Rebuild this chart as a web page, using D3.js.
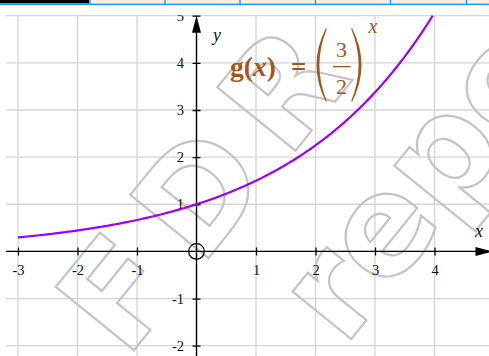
<!DOCTYPE html>
<html>
<head>
<meta charset="utf-8">
<script src="https://cdn.jsdelivr.net/npm/d3@7"></script>
<style>
  html, body { margin: 0; padding: 0; background: #fff; }
  svg { display: block; }
</style>
</head>
<body>
<svg id="chart" width="489" height="356"></svg>
<script>
// Function g(x) = (3/2)^x sampled along the visible x range
const base = 1.5;
const xTicks = [-3, -2, -1, 1, 2, 3, 4];
const yTicks = [-2, -1, 1, 2, 3, 4, 5];
const xGrid = [-3, -2, -1, 0, 1, 2, 3, 4];
const yGrid = [-2, -1, 0, 1, 2, 3, 4, 5];
const curveDomain = [-3, 3.97];
const tabEdges = [90, 165, 240, 315.5, 390.5, 466.5];
const watermarkWords = ["FDR", "repo"];

const W = 489, H = 356;
const svg = d3.select("#chart");

const x = d3.scaleLinear().domain([-3, 4]).range([18, 434.5]);
const y = d3.scaleLinear().domain([-2, 5]).range([345.7, 15.7]);
const x0 = x(0), y0 = y(0);

// header strip of tabs
svg.append("rect").attr("x", 0).attr("y", 0).attr("width", W).attr("height", 4).attr("fill", "#fbefe4");
svg.append("rect").attr("x", 0).attr("y", 0).attr("width", 89).attr("height", 3.4).attr("fill", "#000");
svg.append("rect").attr("x", 0).attr("y", 3.6).attr("width", W).attr("height", 1.4).attr("fill", "#12a4e3");
svg.selectAll("rect.tab").data(tabEdges).join("rect").attr("class", "tab")
  .attr("x", d => d - 0.7).attr("y", 0).attr("width", 1.4).attr("height", 4)
  .attr("fill", "#12a4e3");

// clip for plot content
const defs = svg.append("defs");
defs.append("clipPath").attr("id", "plotClip")
  .append("rect").attr("x", 0).attr("y", 14.8).attr("width", W).attr("height", H - 14.8);
const blur = defs.append("filter").attr("id", "soft").attr("x", "-10%").attr("y", "-10%").attr("width", "120%").attr("height", "120%");
blur.append("feGaussianBlur").attr("stdDeviation", 0.7);

const g = svg.append("g").attr("clip-path", "url(#plotClip)");

// grid
g.append("g").selectAll("line").data(yGrid).join("line")
  .attr("x1", 6).attr("x2", W).attr("y1", d => y(d)).attr("y2", d => y(d))
  .attr("stroke", "#d4d4d4").attr("stroke-width", 1.3);
g.append("g").selectAll("line").data(xGrid).join("line")
  .attr("x1", d => x(d)).attr("x2", d => x(d)).attr("y1", y(5)).attr("y2", H)
  .attr("stroke", "#d4d4d4").attr("stroke-width", 1.3);

// watermark
const wm = g.append("g").attr("filter", "url(#soft)")
  .attr("font-family", "DejaVu Sans, sans-serif").attr("font-weight", "bold")
  .attr("font-size", 138).attr("fill", "none").attr("stroke", "#c4c4c4").attr("stroke-width", 2.2);
wm.append("text").attr("transform", "translate(126,360) rotate(-51)").attr("letter-spacing", 24).text(watermarkWords[0]);
wm.append("text").attr("transform", "translate(344,348) rotate(-51)").text(watermarkWords[1]);

// axis lines with arrowheads
g.append("line").attr("x1", 6).attr("x2", 478).attr("y1", y0).attr("y2", y0)
  .attr("stroke", "#000").attr("stroke-width", 1.4);
g.append("line").attr("x1", x0).attr("x2", x0).attr("y1", H).attr("y2", y(5) + 14)
  .attr("stroke", "#000").attr("stroke-width", 1.4);
g.append("path").attr("d", `M${x0},${y(5)} L${x0 - 4.5},${y(5) + 17} L${x0 + 4.5},${y(5) + 17} Z`).attr("fill", "#000");
g.append("path").attr("d", `M493,${y0} L475.5,${y0 - 4.5} L475.5,${y0 + 4.5} Z`).attr("fill", "#000");

// ticks and tick labels
const xAxis = d3.axisBottom(x).tickValues(xTicks).tickSize(8).tickPadding(9).tickFormat(d => String(d));
const yAxis = d3.axisLeft(y).tickValues(yTicks).tickSize(8).tickPadding(8.5).tickFormat(d => String(d));
const gx = g.append("g").attr("transform", `translate(0,${y0 - 4})`).call(xAxis);
const gy = g.append("g").attr("transform", `translate(${x0 + 4},0)`).call(yAxis);
[gx, gy].forEach(a => {
  a.select(".domain").remove();
  a.selectAll(".tick line").attr("stroke", "#000").attr("stroke-width", 1.3);
  a.selectAll(".tick text").attr("fill", "#111")
    .attr("font-family", "Liberation Serif, Times New Roman, serif").attr("font-size", 14.5);
});

// origin marker
g.append("circle").attr("cx", x0).attr("cy", y0).attr("r", 7.8)
  .attr("fill", "none").attr("stroke", "#000").attr("stroke-width", 1.3);

// curve
const pts = d3.range(curveDomain[0], curveDomain[1] + 1e-9, 0.02).map(v => [v, Math.pow(base, v)]);
pts.push([curveDomain[1], Math.pow(base, curveDomain[1])]);
const line = d3.line().x(d => x(d[0])).y(d => y(d[1])).curve(d3.curveLinear);
g.append("path").datum(pts).attr("d", line)
  .attr("fill", "none").attr("stroke", "#a000f2").attr("stroke-width", 2.2);

// axis names
g.append("text").attr("x", 213).attr("y", 41).text("y")
  .attr("font-family", "Liberation Serif, serif").attr("font-style", "italic").attr("font-size", 18).attr("fill", "#111");
g.append("text").attr("x", 475).attr("y", 237).text("x")
  .attr("font-family", "Liberation Serif, serif").attr("font-style", "italic").attr("font-size", 18).attr("fill", "#111");

// formula label
const brown = "#a3561c";
const f = g.append("g").attr("fill", brown).attr("font-family", "Liberation Serif, Times New Roman, serif");
const lhs = f.append("text").attr("x", 230).attr("y", 75.5).attr("font-size", 27.5).attr("font-weight", "bold");
lhs.append("tspan").text("g(");
lhs.append("tspan").attr("font-style", "italic").text("x");
lhs.append("tspan").text(")");
f.append("text").attr("x", 291).attr("y", 75.5).attr("font-size", 27).attr("font-weight", "bold").text("=");
f.append("text").attr("x", 341.5).attr("y", 57).attr("font-size", 22).attr("text-anchor", "middle").text("3");
f.append("rect").attr("x", 333).attr("y", 66).attr("width", 17.5).attr("height", 1.3);
f.append("text").attr("x", 341.5).attr("y", 93.5).attr("font-size", 22).attr("text-anchor", "middle").text("2");
f.append("path").attr("d", "M326,28 Q307,65 326,102 L326.8,101 Q312,65 326.8,29 Z");
f.append("path").attr("d", "M352,28 Q371,65 352,102 L351.2,101 Q366,65 351.2,29 Z");
f.append("text").attr("x", 368.5).attr("y", 32.5).attr("font-size", 20).attr("font-style", "italic").text("x");
</script>
</body>
</html>
